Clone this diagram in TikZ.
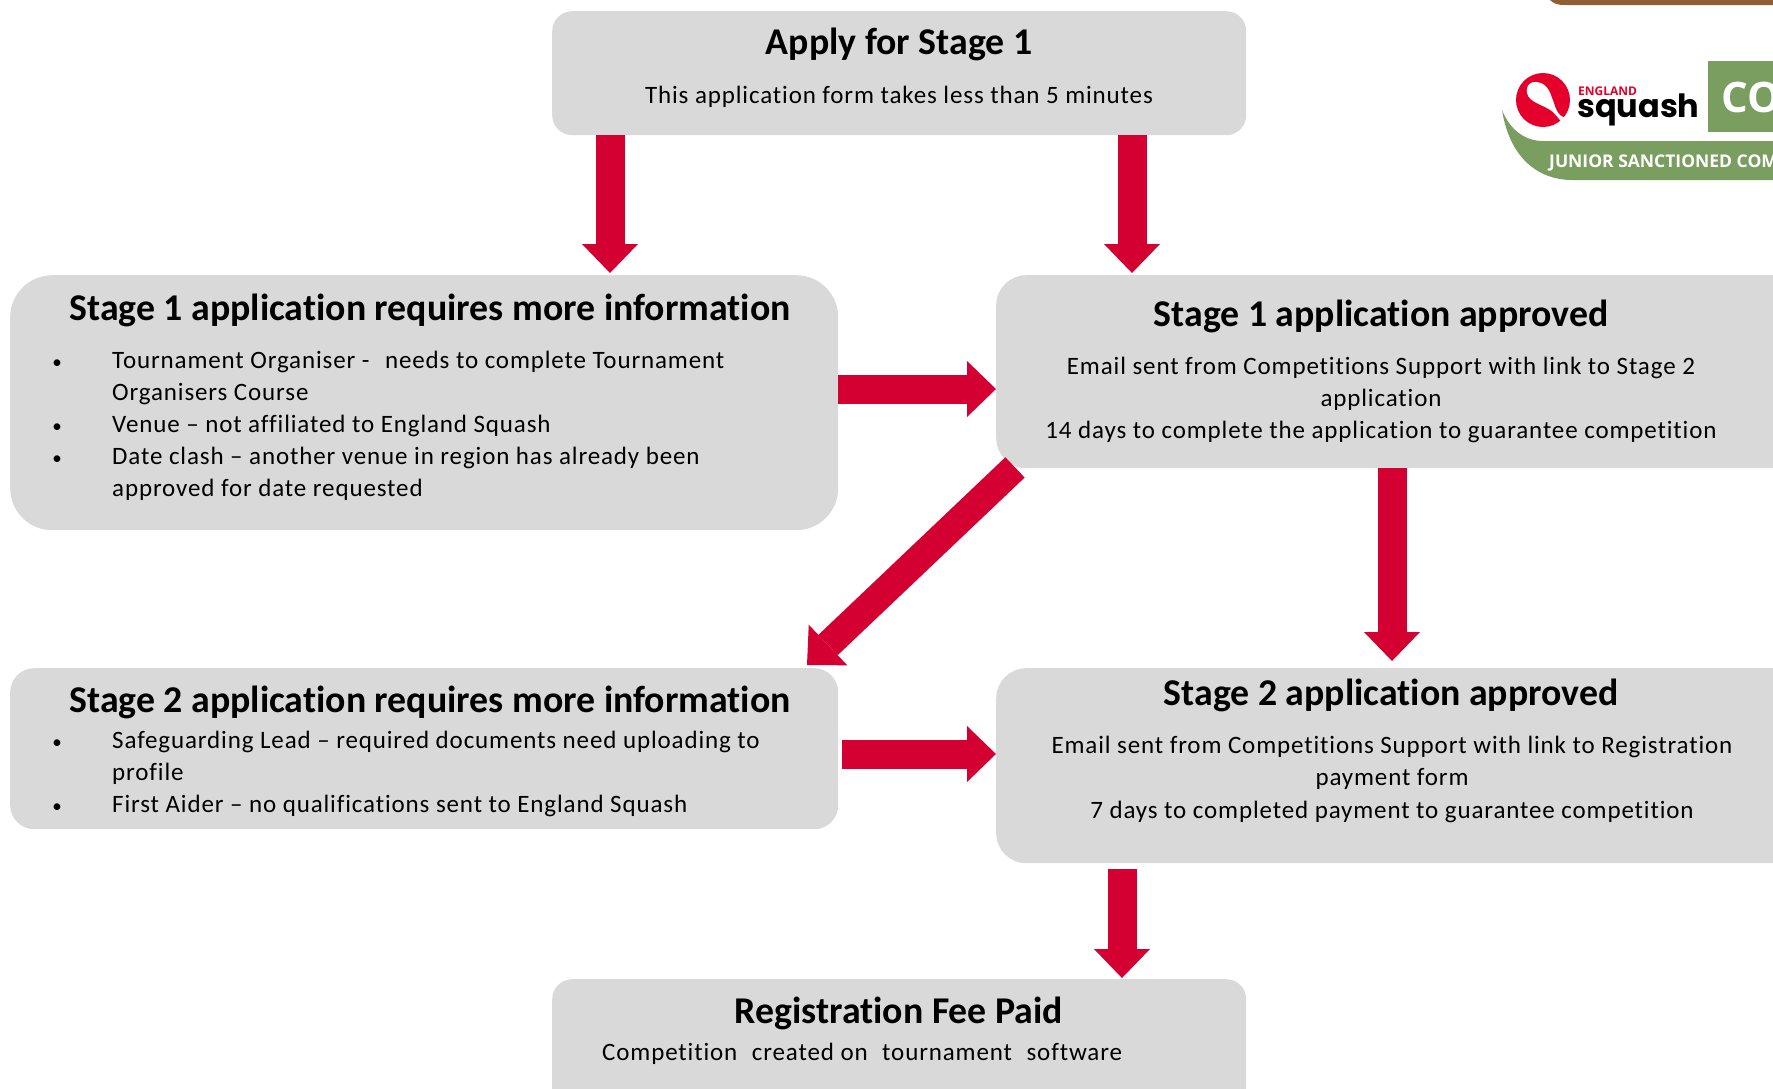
\documentclass[tikz,border=0pt]{standalone}
\usepackage{fontspec}
\setmainfont{Carlito}
\usetikzlibrary{arrows.meta,calc}
\definecolor{boxgrey}{HTML}{D9D9D9}
\definecolor{arrowred}{HTML}{D50032}
\definecolor{logored}{HTML}{E4002B}
\definecolor{logogreen}{HTML}{7A9E5F}
\definecolor{logobrown}{HTML}{8F5E35}
\newfontfamily\bodyfont[LetterSpace=3.5,Ligatures=NoCommon]{Carlito}
\newfontfamily\titlefont[Ligatures=NoCommon]{Carlito}
\tikzset{
 stagebox/.style={fill=boxgrey,draw=none,inner sep=0pt,anchor=north west},
 titletext/.style={anchor=base,inner sep=0pt,font=\titlefont\fontsize{37.8}{37.8}\selectfont\bfseries,text=black},
 linetext/.style={anchor=base,inner sep=0pt,font=\bodyfont\fontsize{25}{25}\selectfont,text=black},
 leftline/.style={linetext,anchor=base west},
 bullettext/.style={anchor=base,inner sep=0pt,font=\bodyfont\fontsize{19}{19}\selectfont,text=black},
 bigarrow/.style={draw=arrowred,line width=#1,-{Triangle[length=29pt,width=56pt,line width=0pt,round=false]}},
 bigarrow/.default=29pt
}
\begin{document}
\begin{tikzpicture}[x=1pt,y=-1pt]
\clip (0,0) rectangle (1773,1088);
\useasboundingbox (0,0) rectangle (1773,1088);
% boxes
\node[stagebox,minimum width=694pt,minimum height=124pt,rounded corners=20pt] (apply) at (552,11) {};
\node[stagebox,minimum width=828pt,minimum height=255pt,rounded corners=42pt] (sonemore) at (10,275) {};
\node[stagebox,minimum width=860pt,minimum height=193pt,rounded corners=30pt] (soneok) at (996,275) {};
\node[stagebox,minimum width=828pt,minimum height=161pt,rounded corners=24pt] (stwomore) at (10,668) {};
\node[stagebox,minimum width=860pt,minimum height=195pt,rounded corners=30pt] (stwook) at (996,668) {};
\node[stagebox,minimum width=694pt,minimum height=150pt,rounded corners=20pt] (regfee) at (552,979) {};
% arrows
\draw[bigarrow] ($(apply.south west)+(58,0)$) -- ($(sonemore.north west)+(600,-2)$);
\draw[bigarrow] ($(apply.south west)+(580,0)$) -- ($(soneok.north west)+(136,-2)$);
\draw[bigarrow] (sonemore.east |- 0,389) -- (soneok.west |- 0,389);
\coordinate (diagtip) at ($(stwomore.north west)+(797,-3)$);
\draw[bigarrow=28pt] ($(soneok.south west)+(19,-1)$) -- (diagtip);
\draw[bigarrow] ($(soneok.south west)+(396,0)$) -- ($(stwook.north west)+(396,-7)$);
\coordinate (sixstart) at ($(stwomore.east |- 0,754)+(4,0)$);
\draw[bigarrow] (sixstart) -- (stwook.west |- 0,754);
\draw[bigarrow] ($(stwook.south west)+(126,6)$) -- ($(regfee.north west)+(570,-1)$);
% texts
\node[titletext] (t1) at (899,54) {Apply for Stage 1};
\node[linetext] (b1) at (899,103) {This application form takes less than 5 minutes};
\node[titletext] (t2) at (430,320) {Stage 1 application requires more information};
\foreach \n/\yy in {p1/368,p2/432,p3/464}{\node[bullettext] (\n) at (57,\yy) {•};}
\node[leftline] (l1) at (112,368) {Tournament Organiser -\hspace{9pt} needs to complete Tournament};
\node[leftline] (l2) at (112,400) {Organisers Course};
\node[leftline] (l3) at (112,432) {Venue – not affiliated to England Squash};
\node[leftline] (l4) at (112,464) {Date clash – another venue in region has already been};
\node[leftline] (l5) at (112,496) {approved for date requested};
\node[titletext] (t3) at (1381,326) {Stage 1 application approved};
\node[linetext] (m1) at (1381,374) {Email sent from Competitions Support with link to Stage 2};
\node[linetext] (m2) at (1381,406) {application};
\node[linetext] (m3) at (1381,438) {14 days to complete the application to guarantee competition};
\node[titletext] (t4) at (430,712) {Stage 2 application requires more information};
\foreach \n/\yy in {q1/748,q2/812}{\node[bullettext] (\n) at (57,\yy) {•};}
\node[leftline] (n1) at (112,748) {Safeguarding Lead – required documents need uploading to};
\node[leftline] (n2) at (112,780) {profile};
\node[leftline] (n3) at (112,812) {First Aider – no qualifications sent to England Squash};
\node[titletext] (t5) at (1391,705) {Stage 2 application approved};
\node[linetext] (r1) at (1392,753) {Email sent from Competitions Support with link to Registration};
\node[linetext] (r2) at (1392,785) {payment form};
\node[linetext] (r3) at (1392,818) {7 days to completed payment to guarantee competition};
\node[titletext] (t6) at (899,1023) {Registration Fee Paid};
\node[leftline] (s1) at (602,1060) {Competition\hspace{8pt} created on\hspace{8pt} tournament\hspace{8pt} software};
% logo
\fill[logobrown] (1550,0) .. controls (1554,4) and (1558,5) .. (1565,5) -- (1773,5) -- (1773,0) -- cycle;
\fill[logogreen] (1502,110) .. controls (1510,160) and (1540,180) .. (1572,180) -- (1773,180) -- (1773,141) -- (1543,141) .. controls (1525,141) and (1510,130) .. (1502,110) -- cycle;
\fill[logogreen] (1708,61) rectangle (1773,132);
\fill[logored] (1543,100) circle [radius=27];
\fill[white] (1568,118) .. controls (1556,118) and (1555,104) .. (1552,98) .. controls (1549,88) and (1544,82) .. (1535,82) .. controls (1528,82) and (1526,88) .. (1527,93) .. controls (1529,103) and (1545,105) .. (1553,112) .. controls (1558,117) and (1561,122) .. (1566,127) -- (1575,127) -- cycle;
\node[anchor=base west,inner sep=0pt,text=logored,font=\fontspec{Open Sans}\fontsize{12}{12}\selectfont\bfseries] (engl) at (1578,95) {ENGLAND};
\node[anchor=base west,inner sep=0pt,text=black,font=\fontspec{Poppins}\fontsize{32}{32}\selectfont\bfseries] (sq) at (1577,117) {squash};
\node[anchor=base west,inner sep=0pt,text=white,font=\fontspec{Open Sans}\fontsize{42}{42}\selectfont\bfseries] (co) at (1721,112) {CO};
\node[anchor=base west,inner sep=0pt,text=white,font=\fontspec{Open Sans}\fontsize{17.5}{17.5}\selectfont\bfseries] (jun) at (1549,167) {JUNIOR SANCTIONED COM};
\end{tikzpicture}
\end{document}
